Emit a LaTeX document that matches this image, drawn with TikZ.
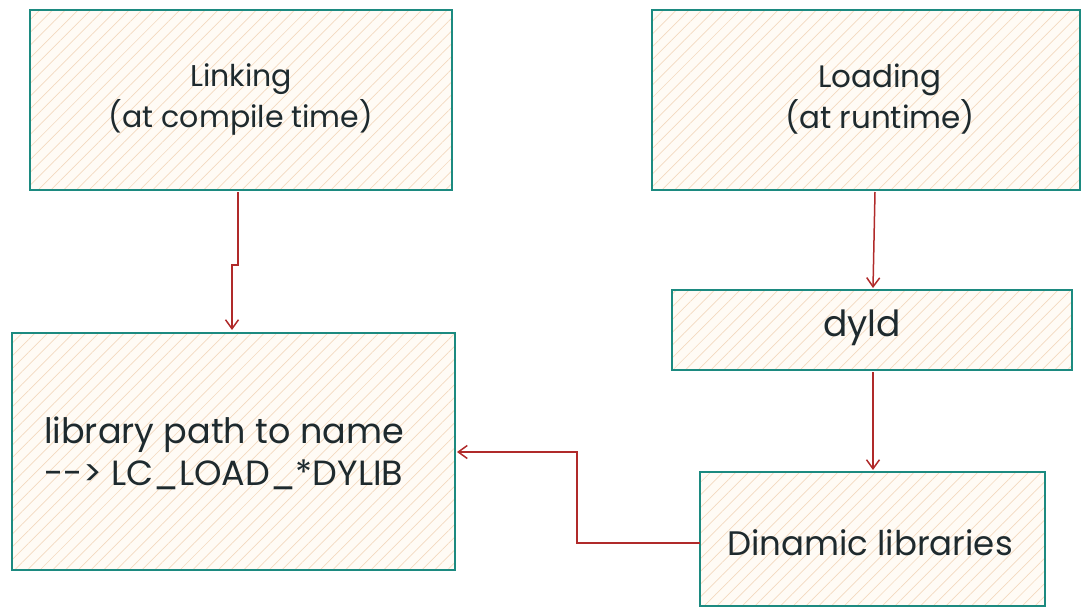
\documentclass[tikz,border=0pt]{standalone}
\usepackage{fontspec}
\setmainfont{Poppins}
\usetikzlibrary{patterns.meta,arrows.meta}
\definecolor{boxline}{HTML}{1C8A80}
\definecolor{boxfill}{HTML}{FFFBF5}
\definecolor{hatch}{HTML}{F3D9C0}
\definecolor{arrowc}{HTML}{B02A2A}
\definecolor{txt}{HTML}{1E2A2E}
\tikzset{
  box/.style={draw=boxline, line width=2pt,
    preaction={fill=boxfill},
    preaction={pattern={Lines[angle=45,distance=9pt,line width=0.7pt]}, pattern color=hatch}},
  lbl/.style={text=txt, align=center},
  conn/.style={draw=arrowc, line width=1.5pt, -{Straight Barb[length=9pt,width=13pt,line width=1.5pt]}}
}
\begin{document}
\begin{tikzpicture}[x=1pt,y=-1pt]
\useasboundingbox (0,0) rectangle (1085,610);
\path[box] (30,10) rectangle (452,190);
\path[box] (652,10) rectangle (1080,190);
\path[box] (12,333) rectangle (455,570);
\path[box] (672,290) rectangle (1072,370);
\path[box] (700,472) rectangle (1045,606);
\node[lbl, font=\fontsize{30}{41}\selectfont] (link) at (241,99) {Linking\\(at compile time)};
\node[lbl, font=\fontsize{31}{41}\selectfont] (load) at (880,99) {Loading\\(at runtime)};
\node[lbl, font=\fontsize{36}{44}\selectfont] (dyld) at (862,328) {dyld};
\node[lbl, font=\fontsize{35}{42}\selectfont] (lib) at (224,453) {library path to name\\{-}{-}> LC\_LOAD\_*DYLIB};
\node[lbl, font=\fontsize{34}{42}\selectfont] (dyn) at (870,543) {Dinamic libraries};
\coordinate (linkb) at (238,192);
\coordinate (libt) at (232,330);
\coordinate (loadb) at (875,192);
\coordinate (dyldt) at (873,288);
\coordinate (dyldb) at (873,372);
\coordinate (dynt) at (873,470);
\coordinate (dynl) at (700,543);
\coordinate (libr) at (457,452);
\draw[conn] (linkb) -- (238,265) -- (232,265) -- (libt);
\draw[conn] (loadb) -- (dyldt);
\draw[conn] (dyldb) -- (dynt);
\draw[conn] (dynl) -- (577,543) -- (577,452) -- (libr);
\end{tikzpicture}
\end{document}
